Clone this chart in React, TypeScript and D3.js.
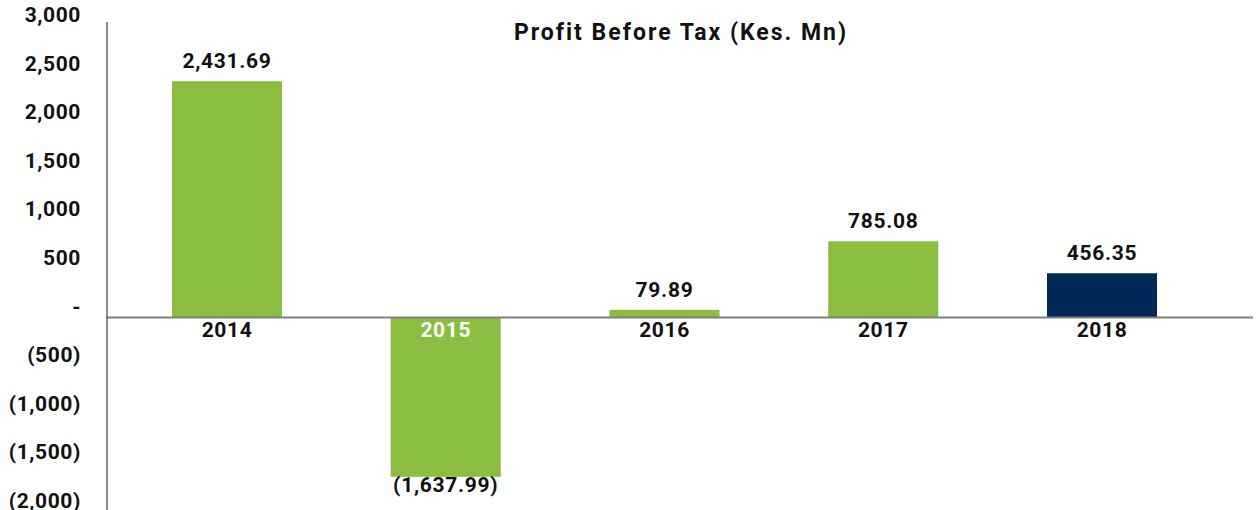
import React from "react";
import * as d3 from "d3";

const years = ["2014", "2015", "2016", "2017", "2018"];
const profit = [2431.69, -1637.99, 79.89, 785.08, 456.35];
const barColors = ["#8BBD41", "#8BBD41", "#8BBD41", "#8BBD41", "#002856"];
const tickValues = [3000, 2500, 2000, 1500, 1000, 500, 0, -500, -1000, -1500, -2000];
const title = "Profit Before Tax (Kes. Mn)";

const W = 1257;
const H = 510;
const FONT = "Roboto, 'DejaVu Sans', sans-serif";

const fmtInt = d3.format(",.0f");
const fmtDec = d3.format(",.2f");
const tickLabel = (v: number) => (v === 0 ? "-" : v < 0 ? `(${fmtInt(-v)})` : fmtInt(v));
const valueLabel = (v: number) => (v < 0 ? `(${fmtDec(-v)})` : fmtDec(v));

export default function App() {
  const y = d3.scaleLinear().domain([-2000, 3000]).range([512, 26]);
  const x = d3
    .scaleBand<string>()
    .domain(years)
    .range([107, 1222])
    .paddingInner(0.497)
    .paddingOuter(0.297);
  const axisX = 107;
  const y0 = y(0);
  const data = years.map((yr, i) => ({ yr, v: profit[i], c: barColors[i] }));

  return (
    <svg
      width={W}
      height={H}
      style={{ position: "absolute", left: 0, top: 0, display: "block", background: "#fff" }}
      fontFamily={FONT}
      fontWeight={700}
    >
      {/* bars */}
      {data.map((d) => (
        <rect
          key={d.yr}
          x={x(d.yr)}
          width={x.bandwidth()}
          y={Math.min(y(d.v), y0)}
          height={Math.abs(y(d.v) - y0)}
          fill={d.c}
        />
      ))}
      {/* zero line */}
      <line x1={axisX} x2={1253} y1={y0} y2={y0} stroke="#7f7f7f" strokeWidth={2} />
      {/* vertical axis */}
      <line x1={axisX} x2={axisX} y1={22} y2={H} stroke="#404040" strokeWidth={1.2} />
      {/* tick labels */}
      {tickValues.map((t) => (
        <text
          key={t}
          x={81}
          y={y(t) - 11}
          textAnchor="end"
          dominantBaseline="central"
          fontSize={21}
          letterSpacing={0.6}
          fill="#111"
        >
          {tickLabel(t)}
        </text>
      ))}
      {/* value labels */}
      {data.map((d) => (
        <text
          key={"v" + d.yr}
          x={(x(d.yr) as number) + x.bandwidth() / 2}
          y={d.v >= 0 ? y(d.v) - 20 : y(d.v) + 8}
          textAnchor="middle"
          dominantBaseline="central"
          fontSize={21}
          letterSpacing={0.7}
          fill="#111"
        >
          {valueLabel(d.v)}
        </text>
      ))}
      {/* year labels */}
      {data.map((d) => (
        <text
          key={"c" + d.yr}
          x={(x(d.yr) as number) + x.bandwidth() / 2}
          y={y0 + 12}
          textAnchor="middle"
          dominantBaseline="central"
          fontSize={21}
          letterSpacing={0.6}
          fill={d.v < 0 ? "#ffffff" : "#111"}
        >
          {d.yr}
        </text>
      ))}
      {/* title */}
      <text
        x={681}
        y={32}
        textAnchor="middle"
        dominantBaseline="central"
        fontSize={23}
        letterSpacing={2}
        fill="#111"
      >
        {title}
      </text>
    </svg>
  );
}
